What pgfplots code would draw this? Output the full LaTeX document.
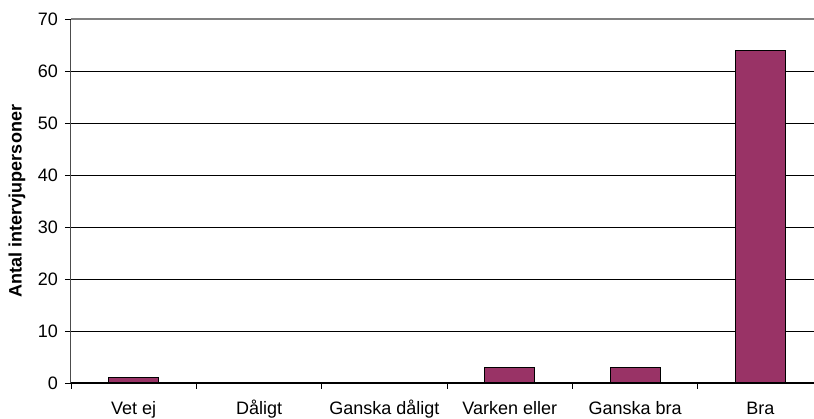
\documentclass[border=0pt]{standalone}
\usepackage{fontspec}
\setmainfont{Liberation Sans}
\usepackage{pgfplots}
\pgfplotsset{compat=1.18}
\definecolor{barc}{HTML}{993366}
\begin{document}
\fontsize{18bp}{21bp}\selectfont
\begin{tikzpicture}
\begin{axis}[
  scale only axis, width=743bp, height=364bp,
  xmin=-0.5, xmax=5.427, ymin=0, ymax=70,
  axis x line*=bottom, axis y line*=left,
  x axis line style={black, line width=1bp},
  y axis line style={black!70, line width=1bp},
  tick align=outside,
  major tick length=6bp,
  tick style={black, line width=0.8bp},
  xtick={-0.5,0.5,1.5,2.5,3.5,4.5},
  xticklabels={},
  extra x ticks={0,1,2,3,4,5},
  extra x tick labels={Vet ej,Dåligt,Ganska dåligt,Varken eller,Ganska bra,Bra},
  extra x tick style={tick style={draw=none}, xticklabel style={text height=14bp, text depth=4bp, yshift=-5bp}},
  ytick={0,10,20,30,40,50,60},
  extra y ticks={70},
  extra y tick style={grid style={gray, line width=1.2bp}},
  ymajorgrids,
  grid style={black, line width=0.8bp},
  /pgf/number format/assume math mode=true,
  ticklabel style={font=\fontsize{18bp}{21bp}\selectfont},
  yticklabel style={xshift=-1bp},
  ylabel={Antal intervjupersoner},
  ylabel style={font=\fontsize{18bp}{21bp}\selectfont\bfseries, at={(axis description cs:-0.0727,0.5)}, anchor=center},
  clip=false,
]
\addplot[ybar, bar width=50bp, fill=barc, draw=black, line width=1.2bp]
  coordinates {(0,1) (1,0) (2,0) (3,3) (4,3) (5,64)};
\end{axis}
\pgfresetboundingbox
\path ([xshift=-71bp,yshift=-36bp]current axis.south west) rectangle ([yshift=19bp]current axis.north east);
\end{tikzpicture}
\end{document}
